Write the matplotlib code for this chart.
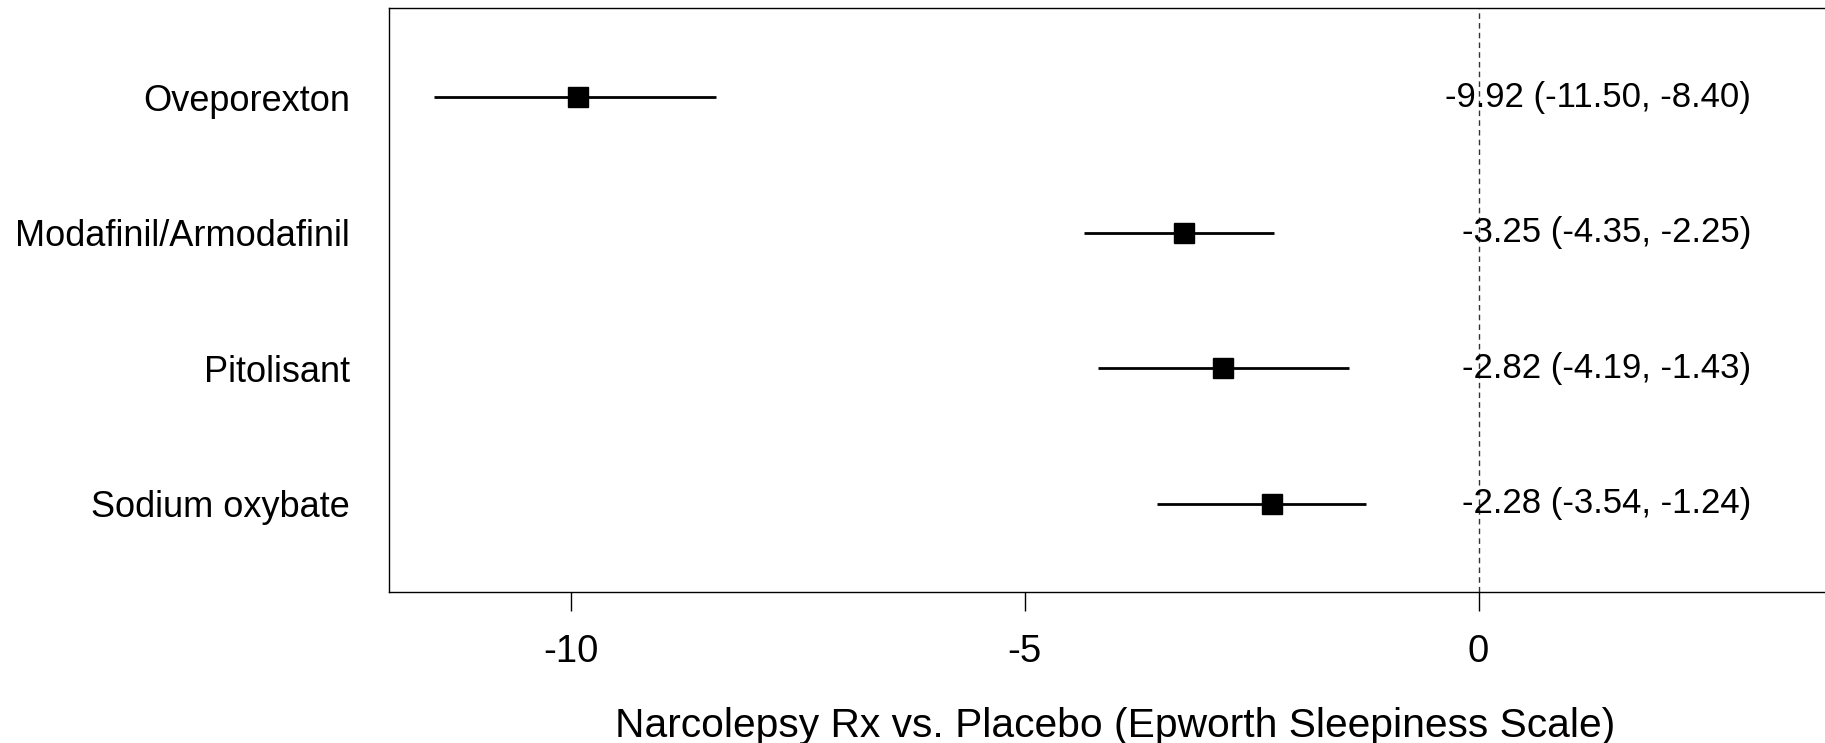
import matplotlib
matplotlib.use("Agg")
import matplotlib.pyplot as plt

drugs = ["Oveporexton", "Modafinil/Armodafinil", "Pitolisant", "Sodium oxybate"]
est = [-9.92, -3.25, -2.82, -2.28]
lo = [-11.50, -4.35, -4.19, -3.54]
hi = [-8.40, -2.25, -1.43, -1.24]
xticks = [-10, -5, 0]
xlabel = "Narcolepsy Rx vs. Placebo (Epworth Sleepiness Scale)"

plt.rcParams['font.family'] = ['Liberation Sans', 'DejaVu Sans']

fig = plt.figure(figsize=(18.25, 7.43), dpi=100)
W, H = 1825, 743
px_per_unit = 90.8
xmin, xmax = -12, 4
left = 389 / W
width = (xmax - xmin) * px_per_unit / W
bottom = (H - 592) / H
height = (592 - 7.5) / H
ax = fig.add_axes([left, bottom, width, height])

ys = list(range(len(drugs), 0, -1))
ax.axvline(0, color='#333333', linestyle=(0, (4, 3)), linewidth=1.0, zorder=1)
for y, e, l, h in zip(ys, est, lo, hi):
    ax.plot([l, h], [y, y], color='black', linewidth=2.0, solid_capstyle='butt', zorder=2)
    ax.plot([e], [y], marker='s', color='black', markersize=15, zorder=3)
    ax.text(3.0, y, f"{e:.2f} ({l:.2f}, {h:.2f})", ha='right', va='center', fontsize=25)

ax.set_xlim(xmin, xmax)
ax.set_ylim(0.35, 4.66)
ax.set_xticks(xticks)
ax.set_xticklabels([str(t) for t in xticks], fontsize=27.5)
ax.set_yticks(ys)
ax.set_yticklabels(drugs, fontsize=26)
ax.tick_params(axis='y', length=0, pad=28)
ax.tick_params(axis='x', length=14, width=1.0, pad=16, direction='out')
ax.set_xlabel(xlabel, fontsize=29.3)
ax.xaxis.label.set_va('baseline')
ax.xaxis.set_label_coords(0.5, (592 - 737) / (592 - 7.5))
for s in ax.spines.values():
    s.set_linewidth(1.0)

fig.savefig("out.png", dpi=100)
